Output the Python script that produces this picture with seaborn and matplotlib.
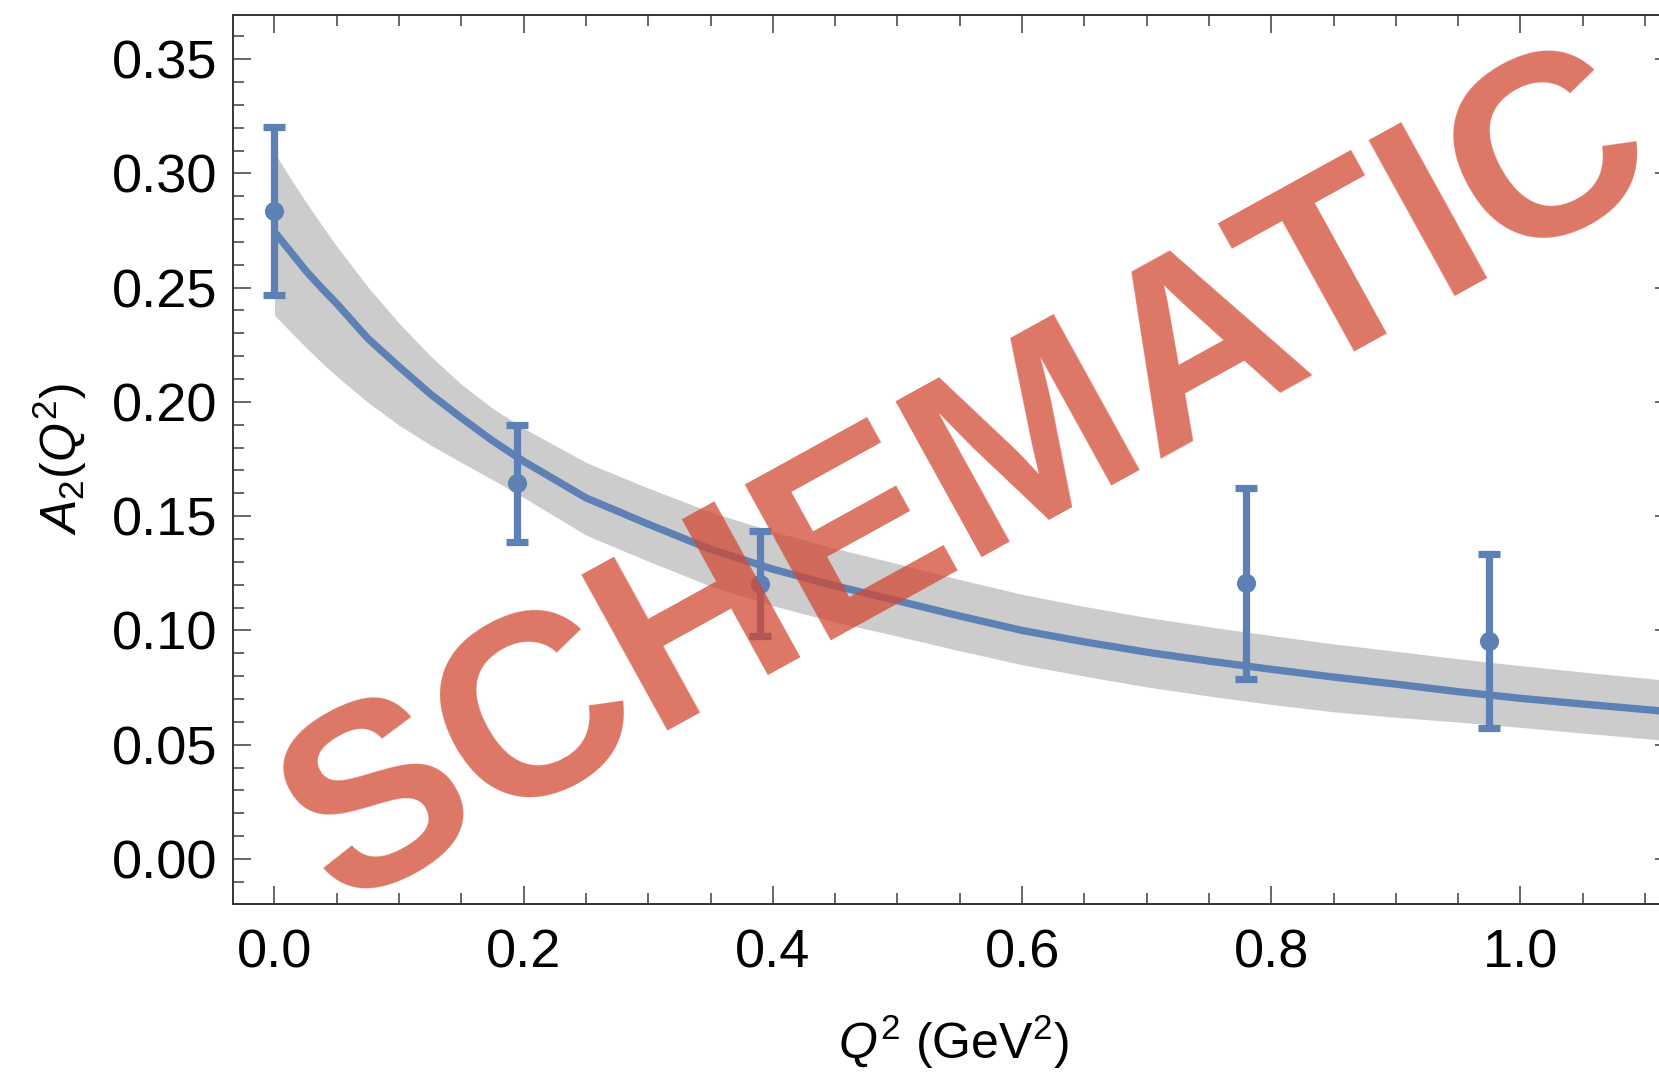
import matplotlib
matplotlib.use("Agg")
import matplotlib.pyplot as plt
import seaborn as sns
import pandas as pd
from matplotlib.ticker import MultipleLocator

# Measured form factor points
q2_points = [0.0, 0.195, 0.39, 0.78, 0.975]
a2_points = [0.2835, 0.1645, 0.1205, 0.1206, 0.0954]
a2_errors = [0.0369, 0.0256, 0.0229, 0.0419, 0.0382]

# Fit curve and its uncertainty band
fit_q2 = [0.0, 0.0125, 0.025, 0.0375, 0.05, 0.075, 0.1, 0.125, 0.15, 0.175,
          0.2, 0.25, 0.3, 0.35, 0.4, 0.45, 0.5, 0.55, 0.6, 0.65, 0.7, 0.75,
          0.8, 0.85, 0.9, 0.95, 1.0, 1.05, 1.125]
fit_a2 = [0.2744, 0.2660, 0.2575, 0.2500, 0.2430, 0.2277, 0.2154, 0.2035,
          0.1930, 0.1830, 0.1740, 0.1580, 0.1465, 0.1355, 0.1268, 0.1195,
          0.1130, 0.1063, 0.1000, 0.0950, 0.0905, 0.0866, 0.0830, 0.0796,
          0.0765, 0.0732, 0.0703, 0.0678, 0.0642]
fit_hi = [0.3090, 0.2981, 0.2877, 0.2777, 0.2681, 0.2503, 0.2344, 0.2202,
          0.2077, 0.1972, 0.1885, 0.1735, 0.1623, 0.1518, 0.1433, 0.1359,
          0.1292, 0.1223, 0.1158, 0.1105, 0.1057, 0.1016, 0.0978, 0.0941,
          0.0909, 0.0876, 0.0846, 0.0818, 0.0778]
fit_lo = [0.2380, 0.2309, 0.2240, 0.2174, 0.2112, 0.1998, 0.1898, 0.1812,
          0.1735, 0.1660, 0.1582, 0.1417, 0.1303, 0.1194, 0.1108, 0.1037,
          0.0975, 0.0911, 0.0850, 0.0800, 0.0753, 0.0713, 0.0676, 0.0644,
          0.0620, 0.0599, 0.0576, 0.0551, 0.0515]

x_ticks = [0.0, 0.2, 0.4, 0.6, 0.8, 1.0]
y_ticks = [0.00, 0.05, 0.10, 0.15, 0.20, 0.25, 0.30, 0.35]

BLUE = "#5e81b5"
BAND = "#cccccc"

sns.set_theme(style="ticks")
plt.rcParams["font.family"] = ["Liberation Sans", "DejaVu Sans"]
plt.rcParams["mathtext.fontset"] = "custom"
plt.rcParams["mathtext.rm"] = "Liberation Sans"
plt.rcParams["mathtext.it"] = "Liberation Sans:italic"
plt.rcParams["mathtext.bf"] = "Liberation Sans:bold"

fig = plt.figure(figsize=(16.59, 10.77), dpi=100)
ax = fig.add_axes([233 / 1659, 1 - 904 / 1077, 1440 / 1659, 889 / 1077])

fit_df = pd.DataFrame({"q2": fit_q2, "a2": fit_a2, "hi": fit_hi, "lo": fit_lo})
pts_df = pd.DataFrame({"q2": q2_points, "a2": a2_points, "err": a2_errors})

ax.fill_between(fit_df["q2"], fit_df["lo"], fit_df["hi"], color=BAND, lw=0, zorder=1)
sns.lineplot(data=fit_df, x="q2", y="a2", color=BLUE, linewidth=5.3, ax=ax,
             zorder=2, sort=False)
ax.errorbar(pts_df["q2"], pts_df["a2"], yerr=pts_df["err"], fmt="none",
            ecolor=BLUE, elinewidth=5.2, capsize=7.8, capthick=5.2, zorder=3)
sns.scatterplot(data=pts_df, x="q2", y="a2", color=BLUE, s=190, linewidth=0,
                ax=ax, zorder=4)

ax.set_xlim(-0.0333, 1.1224)
ax.set_ylim(-0.0197, 0.3693)
ax.set_xticks(x_ticks)
ax.set_yticks(y_ticks)
ax.set_xticklabels([f"{v:.1f}" for v in x_ticks])
ax.set_yticklabels([f"{v:.2f}" for v in y_ticks])
ax.xaxis.set_minor_locator(MultipleLocator(0.05))
ax.yaxis.set_minor_locator(MultipleLocator(0.01))

for side in ["left", "right", "top", "bottom"]:
    ax.spines[side].set_visible(True)
    ax.spines[side].set_color("#333333")
    ax.spines[side].set_linewidth(1.4)

ax.tick_params(which="both", direction="in", top=True, right=True,
               color="#666666", width=1.4, labelsize=39, labelcolor="black")
ax.tick_params(which="major", length=13)
ax.tick_params(which="minor", length=8)
ax.tick_params(axis="x", which="major", pad=18)
ax.tick_params(axis="y", which="major", pad=11)

ax.set_xlabel(r"$Q^2$ (GeV$^2$)", fontsize=36, color="black", va="top")
ax.set_ylabel(r"$A_2(Q^2)$", fontsize=36, color="black", va="center")
ax.xaxis.set_label_coords(0.5, -0.122)
ax.yaxis.set_label_coords(-0.120, 0.5)

ax.text(0.5340, 0.4070, "SCHEMATIC", transform=ax.transAxes,
        fontsize=186, fontweight="bold", family="Liberation Sans",
        color=(210 / 255, 72 / 255, 50 / 255), alpha=0.75,
        rotation=28.9, rotation_mode="anchor", ha="center", va="baseline",
        zorder=10, clip_on=False)

fig.savefig("out.png", dpi=100)
